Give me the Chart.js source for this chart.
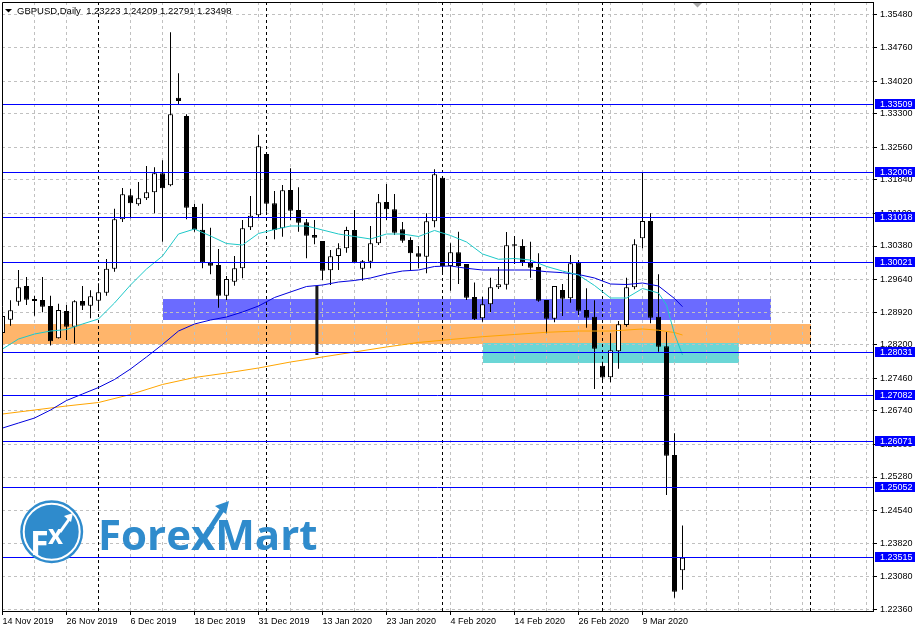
<!DOCTYPE html>
<html><head><meta charset="utf-8">
<script src="https://cdn.jsdelivr.net/npm/chart.js@4/dist/chart.umd.min.js"></script>
<style>html,body{margin:0;padding:0;background:#fff;overflow:hidden}#wrap{width:919px;height:630px;position:relative}</style>
</head><body><div id="wrap"><canvas id="c" width="919" height="630"></canvas></div>
<script>
// ---- data ----
const dateLabels = ['14 Nov 2019','26 Nov 2019','6 Dec 2019','18 Dec 2019','31 Dec 2019','13 Jan 2020','23 Jan 2020','4 Feb 2020','14 Feb 2020','26 Feb 2020','9 Mar 2020'];
const openP = [1.28459,1.28753,1.29150,1.29497,1.29210,1.29188,1.29055,1.28344,1.28945,1.28598,
1.29166,1.29062,1.29173,1.29350,1.29879,1.30970,1.31500,1.31301,1.31433,1.31566,
1.31984,1.31721,1.33654,1.33249,1.31241,1.30741,1.30020,1.29961,1.29283,1.29592,
1.29888,1.30793,1.31058,1.32411,1.31323,1.30771,1.31617,1.31175,1.30903,1.30623,
1.30491,1.29844,1.30160,1.30330,1.30734,1.29879,1.30034,1.30440,1.31352,1.31190,
1.30749,1.30513,1.30219,1.30144,1.30925,1.31888,1.29939,1.30241,1.29983,1.29254,
1.28785,1.29093,1.29469,1.29525,1.30418,1.30380,1.30020,1.29917,1.29188,1.28775,
1.29409,1.29225,1.30020,1.28967,1.28818,1.27734,1.27484,1.28055,1.28634,1.29469,
1.30550,1.30932,1.28818,1.28165,1.25766,1.23223];
const highP = [1.28901,1.29181,1.29850,1.29696,1.29283,1.29696,1.29283,1.29106,1.29077,1.29181,
1.29497,1.29402,1.29557,1.30093,1.31204,1.31661,1.31639,1.31794,1.32145,1.32117,
1.32271,1.35099,1.34193,1.33287,1.31314,1.31314,1.30785,1.30314,1.29718,1.30159,
1.30954,1.31484,1.32831,1.32448,1.31595,1.31727,1.32095,1.31676,1.30976,1.30954,
1.30491,1.30292,1.30440,1.30807,1.31175,1.30071,1.30822,1.31529,1.31750,1.31529,
1.30911,1.30572,1.30380,1.31101,1.32073,1.31888,1.30440,1.30696,1.29983,1.29577,
1.29261,1.29681,1.29917,1.30690,1.30601,1.30528,1.30475,1.30219,1.29188,1.29497,
1.29541,1.30181,1.30071,1.29445,1.29181,1.27822,1.28452,1.28723,1.29681,1.30528,
1.32006,1.31102,1.29755,1.28482,1.26245,1.24209];
const lowP = [1.28238,1.28620,1.29062,1.29077,1.28841,1.28916,1.28183,1.28338,1.28304,1.28231,
1.28967,1.28784,1.28945,1.29283,1.29812,1.30910,1.30992,1.31270,1.31396,1.31102,
1.30475,1.31700,1.33506,1.30970,1.30696,1.29888,1.29755,1.29018,1.29188,1.29503,
1.29667,1.30734,1.31020,1.31138,1.30528,1.30586,1.30954,1.30696,1.30108,1.30418,
1.29630,1.29519,1.29850,1.30232,1.29998,1.29614,1.29888,1.30403,1.30954,1.30624,
1.30454,1.29835,1.29888,1.29777,1.30793,1.29763,1.29393,1.29542,1.29188,1.28748,
1.28710,1.28925,1.29431,1.29422,1.29983,1.29939,1.29681,1.29150,1.28453,1.28696,
1.28834,1.29128,1.28857,1.28576,1.27223,1.27358,1.27374,1.27671,1.28597,1.29425,
1.30329,1.28673,1.28047,1.24883,1.22615,1.22791];
const closeP = [1.28834,1.28960,1.29469,1.29195,1.29166,1.29040,1.28278,1.28967,1.28598,1.29159,
1.29062,1.29270,1.29358,1.29879,1.30970,1.31522,1.31323,1.31433,1.31566,1.31984,
1.31654,1.33287,1.33579,1.31226,1.30741,1.30020,1.29945,1.29283,1.29652,1.29888,
1.30771,1.31049,1.32581,1.31314,1.30734,1.31610,1.31160,1.30895,1.30607,1.30564,
1.29835,1.30153,1.30330,1.30734,1.30020,1.30042,1.30440,1.31345,1.31190,1.30675,
1.30498,1.30219,1.30144,1.30925,1.31962,1.29939,1.30241,1.29939,1.29239,1.28763,
1.29093,1.29469,1.29534,1.30396,1.30387,1.30020,1.29901,1.29173,1.28775,1.29497,
1.29217,1.29998,1.28952,1.28797,1.28113,1.27475,1.28077,1.28650,1.29469,1.30418,
1.30932,1.28797,1.28157,1.25750,1.22748,1.23498];

const maFastIdx = [0,2,4,6,8,10,12,14,16,18,20,22,24,26,28,30,32,34,36,38,40,42,44,46,48,50,52,54,56,58,60,62,64,66,68,70,72,74,76,78,80,82,83,84,85];
const maFast = [1.28106,1.28327,1.28437,1.28503,1.28536,1.28658,1.28769,1.29122,1.29519,1.29872,
1.30159,1.30645,1.30755,1.30601,1.30435,1.30402,1.30656,1.30744,1.30822,1.30822,
1.30734,1.30645,1.30590,1.30535,1.30645,1.30645,1.30590,1.30723,1.30612,1.30469,
1.30204,1.30087,1.30104,1.30071,1.29928,1.29828,1.29740,1.29508,1.29232,1.29232,
1.29442,1.29342,1.29077,1.28437,1.27974];
const maMidIdx = [0,2,4,6,8,10,12,14,16,18,20,22,24,26,28,30,32,34,36,38,40,42,44,46,48,50,52,54,56,58,60,62,64,66,68,70,72,74,76,78,80,82,84,85];
const maMid = [1.26361,1.26472,1.26582,1.26759,1.26969,1.27113,1.27256,1.27433,1.27665,1.27930,
1.28206,1.28503,1.28658,1.28746,1.28813,1.28923,1.29055,1.29243,1.29365,1.29486,
1.29519,1.29585,1.29619,1.29674,1.29762,1.29828,1.29850,1.29928,1.29939,1.29888,
1.29850,1.29850,1.29850,1.29850,1.29813,1.29791,1.29751,1.29674,1.29541,1.29530,
1.29563,1.29497,1.29221,1.29040];
const maSlowIdx = [0,4,8,12,16,20,24,28,32,36,40,44,48,52,56,60,64,68,72,76,80,82,84,85];
const maSlow = [1.26671,1.26759,1.26848,1.26925,1.27102,1.27323,1.27477,1.27576,1.27687,1.27819,
1.27930,1.28040,1.28151,1.28250,1.28316,1.28378,1.28427,1.28475,1.28503,1.28503,
1.28548,1.28521,1.28470,1.28415];

const yTickValues = [1.35480,1.34760,1.34020,1.33300,1.32560,1.31840,1.31100,1.30380,1.29640,1.28920,1.28200,1.27460,1.26740,1.26000,1.25280,1.24540,1.23820,1.23080,1.22360];
const levelPrices = [1.33509,1.32006,1.31018,1.30021,1.28031,1.27082,1.26071,1.25052,1.23515];
const zoneFrom = [-3,20,60];
const zoneTo   = [101,96,92];
const zoneHigh = [1.28658,1.29210,1.28232];
const zoneLow  = [1.28217,1.28747,1.27797];
const separatorIdx = [12,33,55,75,101];
const stickIdx = [39.3,39.3];
const stickPrice = [1.29497,1.27974];
const titleText = 'GBPUSD,Daily  1.23223 1.24209 1.22791 1.23498';

// ---- styles ----
const zoneColors = ['#ffb56b','#6b6bff','#6bd6d6'];
const levelColor = '#0000ff';
const logoBlue = '#2f8bcc';

Chart.defaults.font.family = '"Liberation Sans", Arial, sans-serif';
Chart.defaults.font.size = 9;
Chart.defaults.color = '#000';

const idx = openP.map((_, i) => i);
const bodyData = idx.map(i => ({x: i, y: [openP[i], closeP[i]]}));
const wickData = idx.map(i => ({x: i, y: [lowP[i], highP[i]]}));
const bodyFill = idx.map(i => closeP[i] >= openP[i] ? '#ffffff' : '#000000');

const decor = {
  id: 'decor',
  beforeDraw(chart) {
    const {ctx, chartArea: a, scales: {x, y}} = chart;
    ctx.save();
    ctx.beginPath(); ctx.rect(a.left, a.top, a.right - a.left, a.bottom - a.top); ctx.clip();
    zoneFrom.forEach((f, k) => {
      const x1 = x.getPixelForValue(f), x2 = x.getPixelForValue(zoneTo[k]);
      const y1 = y.getPixelForValue(zoneHigh[k]), y2 = y.getPixelForValue(zoneLow[k]);
      ctx.fillStyle = zoneColors[k];
      ctx.fillRect(Math.round(x1), Math.round(y1), Math.round(x2) - Math.round(x1), Math.round(y2) - Math.round(y1));
    });
    ctx.restore();
  },
  beforeDatasetsDraw(chart) {
    const {ctx, chartArea: a, scales: {x}} = chart;
    ctx.save();
    ctx.strokeStyle = '#000'; ctx.lineWidth = 1; ctx.setLineDash([3, 3]);
    separatorIdx.forEach(v => {
      const px = Math.round(x.getPixelForValue(v) - 0.5) + 0.5;
      ctx.beginPath(); ctx.moveTo(px, a.top); ctx.lineTo(px, a.bottom); ctx.stroke();
    });
    ctx.restore();
  },
  afterDatasetsDraw(chart) {
    const {ctx, chartArea: a, scales: {y}} = chart;
    ctx.save();
    ctx.strokeStyle = levelColor; ctx.lineWidth = 1;
    levelPrices.forEach(p => {
      const py = Math.round(y.getPixelForValue(p)) + 0.5;
      ctx.beginPath(); ctx.moveTo(a.left, py); ctx.lineTo(a.right, py); ctx.stroke();
    });
    ctx.restore();
  },
  afterDraw(chart) {
    const {ctx, chartArea: a, scales: {y}} = chart;
    ctx.save();
    ctx.strokeStyle = '#000'; ctx.lineWidth = 1;
    ctx.beginPath();
    ctx.moveTo(a.left + 0.5, a.bottom); ctx.lineTo(a.left + 0.5, a.top + 0.5); ctx.lineTo(a.right, a.top + 0.5);
    ctx.stroke();
    ctx.font = '9px "Liberation Sans", Arial, sans-serif';
    ctx.textBaseline = 'middle'; ctx.textAlign = 'left';
    levelPrices.forEach(p => {
      const py = Math.round(y.getPixelForValue(p));
      ctx.fillStyle = levelColor;
      ctx.fillRect(a.right + 2, py - 5, 40, 10);
      ctx.fillStyle = '#fff';
      ctx.fillText(p.toFixed(5), a.right + 7, py + 0.5);
    });
    ctx.fillStyle = '#000';
    ctx.beginPath(); ctx.moveTo(5, 9); ctx.lineTo(12, 9); ctx.lineTo(8.5, 12.5); ctx.closePath(); ctx.fill();
    ctx.font = '9.5px "Liberation Sans", Arial, sans-serif';
    ctx.fillText(titleText, 17, 11);
    ctx.fillStyle = '#a8a8a8';
    ctx.beginPath(); ctx.moveTo(693, 3); ctx.lineTo(702, 3); ctx.lineTo(697.5, 7.5); ctx.closePath(); ctx.fill();
    const cx = 51.7, cy = 531.7;
    ctx.fillStyle = logoBlue;
    ctx.beginPath(); ctx.arc(cx, cy, 31.5, 0, Math.PI * 2); ctx.fill();
    ctx.strokeStyle = '#fff'; ctx.lineWidth = 2;
    ctx.beginPath(); ctx.arc(cx, cy, 28, 0, Math.PI * 2); ctx.stroke();
    ctx.fillStyle = '#fff';
    ctx.font = 'bold 34px "Open Sans", sans-serif';
    ctx.textBaseline = 'alphabetic';
    ctx.fillText('F', 30, 555);
    ctx.font = 'bold 26px "Open Sans", sans-serif';
    ctx.fillText('x', 48, 544);
    ctx.strokeStyle = '#fff'; ctx.lineWidth = 3;
    ctx.beginPath(); ctx.moveTo(60, 532); ctx.lineTo(70, 518); ctx.stroke();
    ctx.beginPath(); ctx.moveTo(73, 513); ctx.lineTo(64, 516); ctx.lineTo(71, 522); ctx.closePath(); ctx.fill();
    ctx.fillStyle = logoBlue;
    ctx.font = 'bold 42px "Open Sans", sans-serif';
    ctx.fillText('ForexMart', 98, 550);
    ctx.strokeStyle = logoBlue; ctx.lineWidth = 5;
    ctx.beginPath(); ctx.moveTo(209, 530); ctx.lineTo(222, 510); ctx.stroke();
    ctx.beginPath(); ctx.moveTo(229, 501); ctx.lineTo(215, 506); ctx.lineTo(226, 514); ctx.closePath(); ctx.fill();
    ctx.restore();
  }
};

new Chart(document.getElementById('c'), {
  type: 'bar',
  data: {
    datasets: [
      {type: 'line', data: maFastIdx.map((v, k) => ({x: v, y: maFast[k]})), borderColor: '#1ec8c8', borderWidth: 1, pointRadius: 0, tension: 0},
      {type: 'line', data: maMidIdx.map((v, k) => ({x: v, y: maMid[k]})), borderColor: '#0000dd', borderWidth: 1, pointRadius: 0, tension: 0},
      {type: 'line', data: maSlowIdx.map((v, k) => ({x: v, y: maSlow[k]})), borderColor: '#ffa500', borderWidth: 1, pointRadius: 0, tension: 0},
      {type: 'line', data: stickIdx.map((v, k) => ({x: v, y: stickPrice[k]})), borderColor: '#1a1a1a', borderWidth: 3, pointRadius: 0},
      {type: 'bar', data: bodyData, backgroundColor: bodyFill, borderColor: '#000', borderWidth: 1, borderSkipped: false, barThickness: 5, grouped: false, minBarLength: 1, inflateAmount: 0},
      {type: 'bar', data: wickData, backgroundColor: '#000', borderWidth: 0, barThickness: 1, grouped: false, inflateAmount: 0}
    ]
  },
  options: {
    responsive: false, animation: false, events: [],
    layout: {padding: {left: 2, top: 2, right: 0, bottom: 0}},
    plugins: {legend: {display: false}, tooltip: {enabled: false}},
    scales: {
      x: {
        type: 'linear', min: -0.0625, max: 108.8125, offset: false,
        afterBuildTicks: s => { const t = []; for (let v = 0; v <= 108; v += 4) t.push({value: v}); s.ticks = t; },
        afterFit: s => { s.height = 19; s.paddingLeft = 0; s.paddingRight = 0; },
        grid: {offset: false, color: '#c0c0c0', lineWidth: 1, tickLength: 4, tickColor: c => (c.tick && c.tick.value % 8 === 0 && c.tick.value / 8 < dateLabels.length) ? '#000' : 'rgba(0,0,0,0)'},
        border: {color: '#000', width: 1, dash: [3, 3]},
        ticks: {autoSkip: false, maxRotation: 0, align: 'start', padding: 1,
          callback: v => (v % 8 === 0 && v / 8 < dateLabels.length) ? dateLabels[v / 8] : ''}
      },
      y: {
        type: 'linear', position: 'right', min: 1.22322, max: 1.35767,
        afterBuildTicks: s => { s.ticks = yTickValues.map(v => ({value: v})); },
        afterFit: s => { s.width = 46; s.paddingTop = 0; s.paddingBottom = 0; },
        grid: {color: '#c0c0c0', lineWidth: 1, tickLength: 4, tickColor: '#000'},
        border: {color: '#000', width: 1, dash: [3, 3]},
        ticks: {autoSkip: false, padding: 3, callback: v => v.toFixed(5)}
      }
    }
  },
  plugins: [decor]
});
</script>
</body></html>
